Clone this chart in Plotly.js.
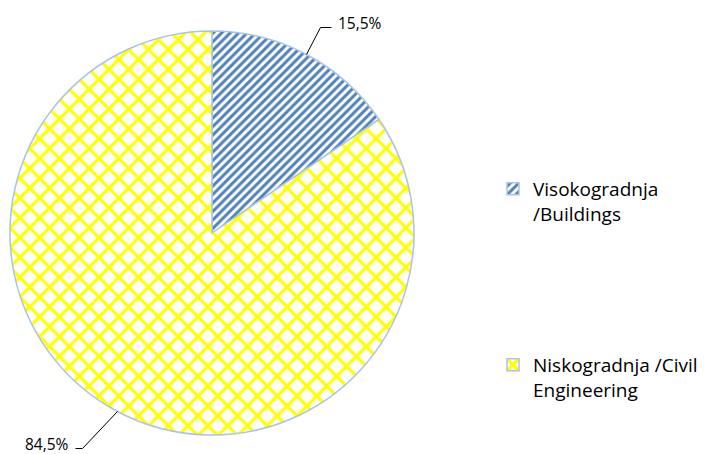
<!DOCTYPE html>
<html>
<head>
<meta charset="utf-8">
<script src="https://cdn.plot.ly/plotly-3.0.1.min.js"></script>
<style>
  html, body { margin: 0; padding: 0; background: #ffffff; }
  #chart { width: 711px; height: 454px; }
</style>
</head>
<body>
<div id="chart"></div>
<script>
// ---- data ----
var categories = ['Visokogradnja<br>/Buildings', 'Niskogradnja /Civil<br>Engineering'];
var shares = [15.5, 84.5];
var shareLabels = ['15,5%', '84,5%'];

// ---- style / layout constants ----
var W = 711, H = 454;
var CX = 212, CY = 233, R = 202;               // pie centre and radius (px)
var leaderOffsets = [[14, -27], [-35, 37]];    // elbow offset from slice edge (px)
var leaderFlat = [11, -7];                     // horizontal leader segment (px)
var legendPad = [5, 0];                        // blank lines to space legend entries

function px2x(px) { return px / W; }
function py2y(py) { return 1 - py / H; }

var total = shares.reduce(function (a, b) { return a + b; }, 0);
var shapes = [], annotations = [];
var acc = 0;
shares.forEach(function (v, i) {
  var mid = (acc + v / 2) / total * 2 * Math.PI;  // clockwise from 12 o'clock
  acc += v;
  var x0 = CX + R * Math.sin(mid), y0 = CY - R * Math.cos(mid);
  var x1 = x0 + leaderOffsets[i][0], y1 = y0 + leaderOffsets[i][1];
  var x2 = x1 + leaderFlat[i];
  shapes.push({
    type: 'path', xref: 'paper', yref: 'paper',
    path: 'M' + px2x(x0) + ',' + py2y(y0) + ' L' + px2x(x1) + ',' + py2y(y1) + ' L' + px2x(x2) + ',' + py2y(y1),
    line: { color: '#000000', width: 1 }
  });
  var right = leaderFlat[i] > 0;
  annotations.push({
    xref: 'paper', yref: 'paper',
    x: px2x(x2 + (right ? 4 : -4)), y: py2y(y1 - 4.5),
    xanchor: right ? 'left' : 'right', yanchor: 'middle',
    text: shareLabels[i], showarrow: false,
    font: { family: 'Open Sans, sans-serif', size: 15.5, color: '#000000' }
  });
});

var legendLabels = categories.map(function (c, i) {
  return c + new Array(legendPad[i] + 1).join('<br> ');
});

var trace = {
  type: 'pie',
  labels: legendLabels,
  values: shares,
  sort: false,
  direction: 'clockwise',
  rotation: 0,
  textinfo: 'none',
  hoverinfo: 'none',
  domain: { x: [px2x(CX - R), px2x(CX + R)], y: [py2y(CY + R), py2y(CY - R)] },
  marker: {
    colors: ['#4f81bd', '#ffff00'],
    line: { color: '#a9c3ea', width: 1.5 },
    pattern: {
      shape: ['/', 'x'],
      fgcolor: ['#4f81bd', '#ffff00'],
      bgcolor: ['#ffffff', '#ffffff'],
      size: [6, 14],
      solidity: [0.5, 0.4],
      fillmode: 'replace'
    }
  }
};

var layout = {
  width: W, height: H,
  margin: { l: 0, r: 0, t: 0, b: 0 },
  paper_bgcolor: '#ffffff',
  showlegend: true,
  legend: {
    x: px2x(493), xanchor: 'left',
    y: py2y(170), yanchor: 'top',
    valign: 'top',
    font: { family: 'Open Sans, sans-serif', size: 19, color: '#000000' },
    bgcolor: 'rgba(0,0,0,0)'
  },
  shapes: shapes,
  annotations: annotations
};

Plotly.newPlot('chart', [trace], layout, { displayModeBar: false, staticPlot: true });
</script>
</body>
</html>
